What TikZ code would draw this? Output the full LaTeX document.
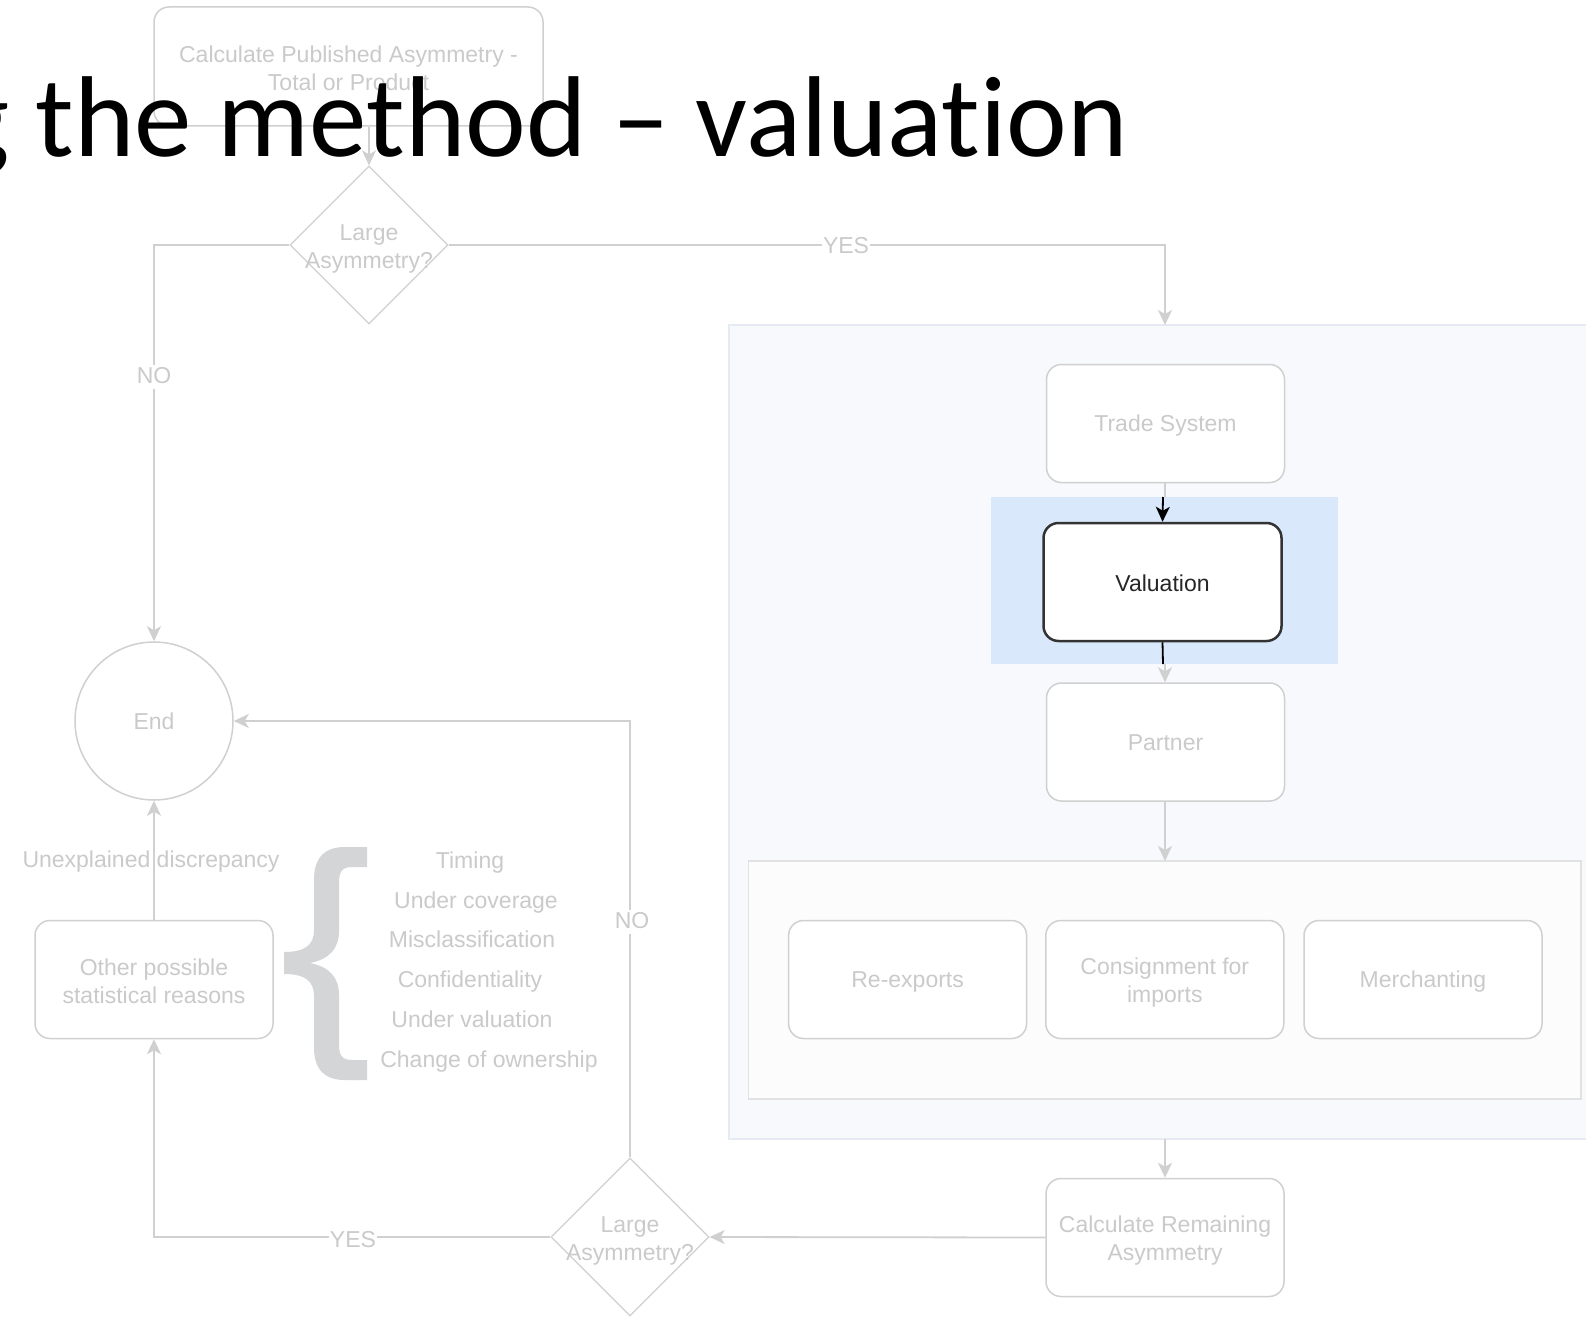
\documentclass[tikz,border=0pt]{standalone}
\usepackage{fontspec}
\setmainfont{Liberation Sans}
\newfontfamily\titlefont[Ligatures={NoCommon,NoRare}]{Carlito}
\usetikzlibrary{shapes.geometric,arrows.meta}
\definecolor{lineC}{HTML}{D0D0D0}
\definecolor{txtC}{HTML}{CACACA}
\definecolor{braceC}{HTML}{D4D5D6}
\definecolor{outerFill}{HTML}{F7F9FC}
\definecolor{outerDraw}{HTML}{E6EBF3}
\definecolor{innerFill}{HTML}{FCFCFD}
\definecolor{innerDraw}{HTML}{E2E2E2}
\definecolor{hiC}{HTML}{DAE8FC}
\definecolor{darkC}{HTML}{333333}
\newcommand{\diagfont}{\fontsize{23}{28}\selectfont}
\begin{document}
\begin{tikzpicture}[x=1pt,y=-1pt,
  tip/.style={-{Stealth[length=15pt,width=14pt,inset=4pt]}},
  boxshape/.style={draw=lineC, line width=1.5pt, rounded corners=15pt, fill=white,
    minimum width=238pt, minimum height=118pt, inner sep=0pt},
  box/.style={boxshape, align=center, text=txtC,
    font=\diagfont, text height=17pt, text depth=5pt},
  multi/.style={text=txtC, font=\diagfont, align=center, inner sep=0pt},
  dia/.style={diamond, draw=lineC, line width=1.2pt, minimum width=158pt,
    minimum height=158pt, inner sep=0pt},
  conn/.style={draw=lineC, line width=1.8pt, tip},
  plain/.style={draw=lineC, line width=1.8pt},
  lbl/.style={fill=white, text=txtC, font=\diagfont, inner sep=1pt,
    text height=17pt, text depth=5pt},
  listtxt/.style={text=txtC, font=\diagfont, inner sep=0pt,
    text height=17pt, text depth=5pt}]
\useasboundingbox (0,0) rectangle (1586,1316);
\clip (0,0) rectangle (1586,1316);
\fill[white] (0,0) rectangle (1586,1316);

% containers
\path[fill=outerFill, draw=outerDraw, line width=1.5pt] (729,325) rectangle (1600,1139);
\coordinate (outerTop) at (1165,325);
\coordinate (outerBot) at (1165,1139);
\path[fill=innerFill, draw=innerDraw, line width=1.5pt] (748.6,861) rectangle (1581,1099);
\coordinate (innerTop) at (1165,861);
\fill[hiC] (991,497) rectangle (1338,664);
\coordinate (hiTop) at (1165,497);
\coordinate (hiTopB) at (1163,497);
\coordinate (hiBot) at (1165,664);
\coordinate (hiBotB) at (1163,664);

% nodes
\node[boxshape, minimum width=389pt, minimum height=119pt,
  label={[multi, yshift=-2pt]center:Calculate Published Asymmetry -\\Total or Product}] (pub) at (348.5,66.5) {};
\node[dia, label={[multi, yshift=-3.5pt]center:Large\\Asymmetry?}] (d1) at (369,245) {};
\node[circle, draw=lineC, line width=1.5pt, minimum size=158pt, inner sep=0pt, text=txtC, font=\diagfont, text height=17pt, text depth=5pt] (end) at (154,721) {\raisebox{-2pt}{End}};
\node[box] (trade) at (1165.5,423.5) {\raisebox{-2pt}{Trade System}};
\node[boxshape, draw=darkC, line width=2.5pt, text=black!85, font=\diagfont, text height=17pt, text depth=5pt] (val) at (1162.5,582) {\raisebox{-3pt}{Valuation}};
\node[box] (partner) at (1165.5,742) {\raisebox{-2pt}{Partner}};
\node[box] (reex) at (907.6,979.5) {\raisebox{-2pt}{Re-exports}};
\node[boxshape, label={[multi, yshift=-3pt]center:Consignment for\\imports}] (cons) at (1164.8,979.5) {};
\node[box] (merch) at (1423,979.5) {\raisebox{-2pt}{Merchanting}};
\node[boxshape, label={[multi, yshift=-3pt]center:Calculate Remaining\\Asymmetry}] (calc) at (1165,1237.5) {};
\node[dia, label={[multi, yshift=-3.5pt]center:Large\\Asymmetry?}] (d2) at (630,1237) {};
\node[boxshape, label={[multi, yshift=-1.5pt]center:Other possible\\statistical reasons}] (other) at (154,979.5) {};

% connectors
\draw[conn] (pub.south -| d1.north) -- (d1.north);
\draw[conn] (d1.west) -| (end.north);
\node[lbl] at (154,377) {NO};
\draw[conn] (d1.east) -| (outerTop);
\node[lbl] at (846,247) {YES};
\draw[plain] (trade.south -| hiTop) -- (hiTop);
\draw[draw=black, line width=1.8pt, tip] (hiTopB) -- (val.north);
\draw[draw=black, line width=1.8pt] (val.south) -- (hiBotB);
\draw[conn] (hiBot) -- (partner.north -| hiBot);
\draw[conn] (partner.south -| innerTop) -- (innerTop);
\draw[conn] (outerBot) -- (calc.north -| outerBot);
\draw[conn] (calc.west) -- (d2.east);
\draw[conn] (d2.west) -| (other.south);
\node[lbl] at (353,1241) {YES};
\draw[conn] (d2.north) |- (end.east);
\node[lbl] at (632,922) {NO};
\draw[conn] (other.north) -- (end.south);
\node[listtxt] at (151,861) {Unexplained discrepancy};

% brace
\fill[braceC] (367,847) -- (345,847) .. controls (325,847) and (314,857) .. (314,880)
  -- (314,930) .. controls (314,945) and (305,952) .. (284,952) -- (284,974)
  .. controls (305,974) and (314,981) .. (314,996) -- (314,1047)
  .. controls (314,1070) and (325,1080) .. (345,1080) -- (367,1080) -- (367,1060)
  -- (352,1060) .. controls (342,1060) and (339,1055) .. (339,1045) -- (339,995)
  .. controls (339,978) and (330,967) .. (310,963)
  .. controls (330,959) and (339,948) .. (339,931) -- (339,882)
  .. controls (339,872) and (342,867) .. (352,867) -- (367,867) -- cycle;
\node[listtxt] at (470,862) {Timing};
\node[listtxt] at (476,902) {Under coverage};
\node[listtxt] at (472,941) {Misclassification};
\node[listtxt] at (470,981) {Confidentiality};
\node[listtxt] at (472,1021) {Under valuation};
\node[listtxt] at (489,1061) {Change of ownership};

% title
\node[anchor=base east, inner sep=0pt, text=black, font=\titlefont\fontsize{115}{120}\selectfont] (title) at (1128,157) {g the method – valuation};
\end{tikzpicture}
\end{document}
